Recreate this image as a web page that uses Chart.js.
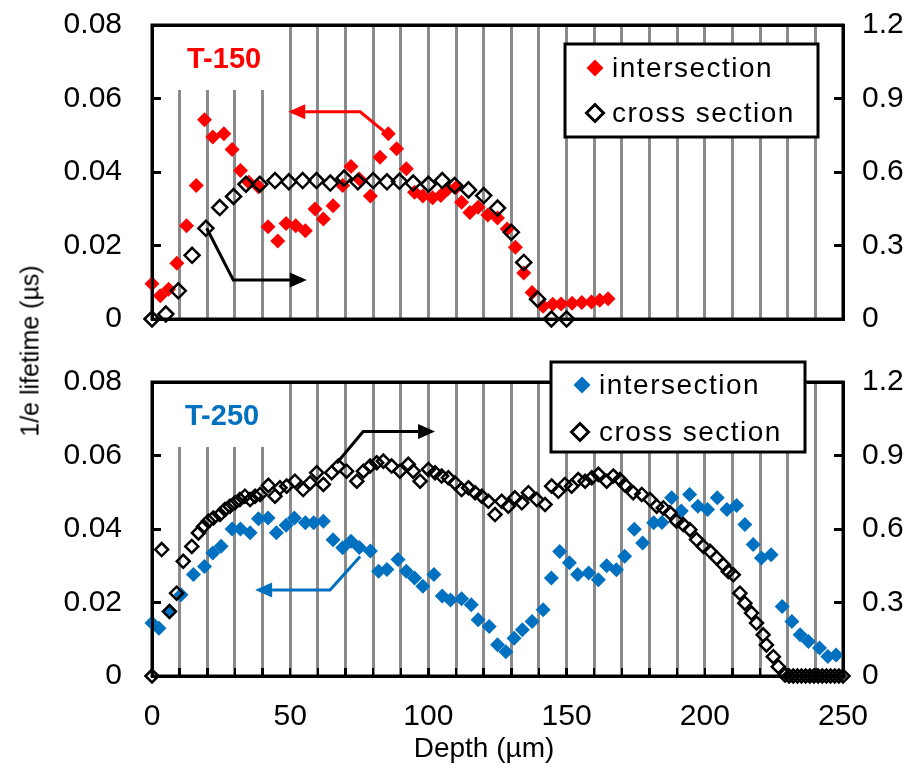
<!DOCTYPE html>
<html><head><meta charset="utf-8">
<script src="https://cdn.jsdelivr.net/npm/chart.js@4.4.1/dist/chart.umd.min.js"></script>
<style>
html,body{margin:0;padding:0;background:#fff;}
#wrap{position:relative;width:920px;height:773px;overflow:hidden;font-family:"Liberation Sans",Arial,sans-serif;color:#000;}
.cv{position:absolute;left:0;}
.fr{position:absolute;background:#000;}
#ytitle{position:absolute;left:30px;top:351px;transform:translate(-50%,-50%) rotate(-90deg);font-size:25px;white-space:nowrap;}
#xtitle{position:absolute;left:484px;top:748px;transform:translate(-50%,-50%);font-size:28px;white-space:nowrap;}
#err{position:absolute;left:0;top:0;font-size:12px;color:#c00;}
</style></head>
<body><div id="wrap">
<canvas id="c1" class="cv" width="920" height="345" style="top:0"></canvas>
<canvas id="c2" class="cv" width="920" height="428" style="top:345px"></canvas>
<div id="ytitle">1/e lifetime (µs)</div>
<div id="xtitle">Depth (µm)</div>
<div id="err"></div>
</div>
<script>
// ---------------- data ----------------
const depthGrid = [0,10,20,30,40,50,60,70,80,90,100,110,120,130,140,150,160,170,180,190,200,210,220,230,240,250];
const depthLabels = [0,50,100,150,200,250];
const leftTicks = [0,0.02,0.04,0.06,0.08];
const rightTicks = [0,0.3,0.6,0.9,1.2];

// T-150 intersection (left axis, µs)
const topIntDepth = [0,3,6,9,12.5,16,19,22,26,29,32,35,38.5,42,45.5,48.5,52,55.5,59,62,65.5,69,72,75,79,82.5,85.5,88.5,92,95,98,101.5,104.5,107,110,112,115,118,121.5,125,128.5,131.5,134.5,137.5,141.5,145,148,152,155.5,159,162,165];
const topIntValue = [0.0096,0.0063,0.0081,0.0152,0.0254,0.0363,0.0542,0.0495,0.0504,0.0461,0.0404,0.0372,0.036,0.0251,0.0212,0.026,0.0254,0.024,0.0299,0.0272,0.0308,0.0363,0.0415,0.0381,0.0335,0.044,0.0504,0.0463,0.0409,0.0345,0.0335,0.033,0.0336,0.0354,0.0358,0.0318,0.029,0.0304,0.0283,0.0275,0.0245,0.0195,0.0125,0.0072,0.0035,0.004,0.0041,0.0043,0.0045,0.0046,0.0051,0.0055];
// T-150 cross section (right axis)
const topCrossDepth = [0,5,9.5,14.5,19.5,24.5,29.5,34,39,44.5,49.5,54.5,59.5,64.5,69.5,74.5,80,85,89.5,94.5,100,105,109.5,114.5,120,125,130,134.5,139.5,144.5,150];
const topCrossValue = [0,0.02,0.115,0.26,0.37,0.455,0.5,0.55,0.55,0.565,0.56,0.565,0.565,0.555,0.575,0.56,0.565,0.56,0.562,0.555,0.55,0.565,0.545,0.527,0.504,0.453,0.354,0.231,0.081,0,0];

// T-250 intersection (left axis)
const botIntDepth = [0,2.5,6.5,10.5,15,19,22,25,29,32,35.5,38.5,42,45,48.5,51.5,55.5,58.5,62,65.5,69,72,75,79,82,85,89,92,95,98,102,105,108,112,115.5,118,122,125,128,131,134,137.5,141.5,144.5,147.5,151,154,158,161.5,164.5,168,171,174.5,177.5,181.5,184.5,188,191.5,194.5,197.5,201,204.5,208,211.5,214.5,217.5,220.5,224,228,231.5,234.5,237.5,241.5,244.5,247.5];
const botIntValue = [0.0144,0.013,0.0176,0.0221,0.0276,0.0298,0.0335,0.0353,0.040,0.040,0.039,0.0428,0.043,0.039,0.041,0.043,0.0417,0.0417,0.0421,0.0371,0.0349,0.0367,0.035,0.034,0.0285,0.029,0.0317,0.0285,0.0267,0.0244,0.0276,0.0218,0.0207,0.021,0.0194,0.0153,0.0135,0.0085,0.0066,0.0103,0.0126,0.0148,0.018,0.0267,0.0339,0.0308,0.0276,0.028,0.0262,0.030,0.0289,0.0326,0.0399,0.0362,0.0417,0.0418,0.0485,0.0449,0.0494,0.0462,0.0453,0.0485,0.0453,0.0464,0.0412,0.0358,0.0321,0.033,0.0189,0.0148,0.0112,0.0094,0.0076,0.0053,0.0057];
// T-250 cross section (right axis)
const botCrossDepth = [0,3.5,6.3,8.9,11.3,14.4,16.8,18.6,20.4,22.2,24.6,26.4,28.2,30,31.8,33.6,35.5,37.3,39.1,42.1,44.5,46.3,48.7,51.7,54.7,57.2,59.6,62,65,67.4,70.4,74.1,76.5,78.9,81.3,83.7,86.7,89.7,92.7,94.5,97,100,102.4,104.8,107.2,109.6,112,114.5,116.9,119.3,121.7,124.1,126.5,128.9,131.3,133.8,136.2,139.2,142.2,144.6,147,149.4,151.8,154.2,156.7,159.1,161.5,164.5,166.9,169.3,171.1,174.1,177.2,180.2,182.6,185,187.4,189.8,192.2,194.6,197,199.5,201.9,204.3,206.7,208.5,210.3,212.7,214.5,216.9,218.7,221.1,222.3,224.8,226.6,229,230.5,232,233.5,235,236.5,238,239.5,241,242.5,244,245.5,247,248.5,250,251.5];
const botCrossValue = [0,0.516,0.263,0.338,0.468,0.529,0.584,0.61,0.632,0.645,0.659,0.68,0.693,0.707,0.72,0.734,0.72,0.734,0.741,0.778,0.734,0.768,0.775,0.795,0.761,0.788,0.83,0.782,0.83,0.857,0.836,0.795,0.836,0.857,0.87,0.877,0.857,0.836,0.864,0.836,0.795,0.843,0.83,0.816,0.809,0.788,0.761,0.768,0.748,0.734,0.713,0.659,0.713,0.693,0.727,0.707,0.748,0.72,0.7,0.775,0.754,0.782,0.775,0.802,0.795,0.809,0.823,0.795,0.816,0.802,0.78,0.748,0.741,0.72,0.693,0.686,0.666,0.632,0.618,0.597,0.557,0.529,0.509,0.482,0.454,0.427,0.413,0.338,0.297,0.257,0.216,0.168,0.127,0.079,0.038,0.004,0,0,0,0,0,0,0,0,0,0,0,0,0,0,0];

// annotation arrows, in data units (depth, left-axis value); head at last point
const topArrows = [
  {color:'#ff0000', pts:[[85.5,0.0501],[75.3,0.0564],[49.3,0.0564]]},
  {color:'#000000', pts:[[19.8,0.0247],[29.4,0.0106],[56,0.0106]]}
];
const botArrows = [
  {color:'#000000', pts:[[66.8,0.0579],[76.4,0.0665],[102.4,0.0665]]},
  {color:'#0070c0', pts:[[75.3,0.0325],[64.4,0.0234],[37.3,0.0234]]}
];

// ---------------- helpers ----------------
const FONT = '"Liberation Sans", Arial, sans-serif';
const pts = (xs, ys) => xs.map((x, i) => ({x: x, y: ys[i]}));
function report(e) { document.getElementById('err').textContent += ' ' + (e && e.message ? e.message : e); }

function diamond(ctx, x, y, r) {
  ctx.beginPath();
  ctx.moveTo(x - r, y); ctx.lineTo(x, y - r); ctx.lineTo(x + r, y); ctx.lineTo(x, y + r);
  ctx.closePath();
}

function frameGeom(chart) {
  const xs = chart.scales.x, ys = chart.scales.y;
  return {L: xs.getPixelForValue(0), R: xs.getPixelForValue(250), B: ys.getPixelForValue(0), T: ys.getPixelForValue(0.08)};
}

// plot frame and inward tick marks (HTML overlay), placed from the chart's own scales
function addFrame(chart, o, offsetTop) {
  const wrap = document.getElementById('wrap');
  const xs = chart.scales.x, ys = chart.scales.y, ys2 = chart.scales.y2;
  const g = frameGeom(chart);
  const rects = [];
  const lg = o.legend;
  if (lg.y < g.T && lg.y + lg.h > g.T) {
    // the legend box sits on top of the frame's upper edge: leave that span out
    rects.push([g.L - 1.5, g.T - 1.5, (lg.x - 1.5) - (g.L - 1.5), 3]);
    rects.push([lg.x + lg.w + 1.5, g.T - 1.5, (g.R + 1.5) - (lg.x + lg.w + 1.5), 3]);
  } else {
    rects.push([g.L - 1.5, g.T - 1.5, g.R - g.L + 3, 3]);
  }
  rects.push([g.L - 1.5, g.B - 1.5, g.R - g.L + 3, 3]);
  rects.push([g.L - 1.5, g.T - 1.5, 3, g.B - g.T + 3]);
  rects.push([g.R - 1.5, g.T - 1.5, 3, g.B - g.T + 3]);
  leftTicks.forEach(v => { const p = ys.getPixelForValue(v); rects.push([g.L, p - 1.5, 9, 3]); });
  rightTicks.forEach(v => { const p = ys2.getPixelForValue(v); rects.push([g.R - 9, p - 1.5, 9, 3]); });
  if (o.xTicks) depthGrid.forEach(v => { const p = xs.getPixelForValue(v); rects.push([p - 1.25, g.B - 8, 2.5, 8]); });
  rects.forEach(r => {
    const d = document.createElement('div');
    d.className = 'fr';
    d.style.left = r[0] + 'px'; d.style.top = (r[1] + offsetTop) + 'px';
    d.style.width = r[2] + 'px'; d.style.height = r[3] + 'px';
    wrap.appendChild(d);
  });
}

function decoPlugin(o) {
  return {
    id: 'deco',
    beforeDatasetsDraw(chart) {
      try {
        const ctx = chart.ctx, g = frameGeom(chart);
        ctx.save();
        ctx.fillStyle = '#ffffff';
        ctx.fillRect(g.L, g.T, o.labelBoxW, o.labelBoxH);
        ctx.font = 'bold 29px ' + FONT;
        ctx.fillStyle = o.labelColor; ctx.textBaseline = 'middle'; ctx.textAlign = 'left';
        ctx.fillText(o.label, o.labelX, o.labelY);
        ctx.strokeStyle = '#000000'; ctx.lineWidth = 3;
        ctx.strokeRect(g.L, g.T, g.R - g.L, g.B - g.T);
        ctx.restore();
      } catch (e) { report(e); }
    },
    afterDatasetsDraw(chart) {
      try {
        const ctx = chart.ctx, xs = chart.scales.x, ys = chart.scales.y;
        ctx.save();
        o.arrows.forEach(ar => {
          const p = ar.pts.map(q => [xs.getPixelForValue(q[0]), ys.getPixelForValue(q[1])]);
          const n = p.length;
          const tx = p[n-1][0], ty = p[n-1][1];
          const ang = Math.atan2(ty - p[n-2][1], tx - p[n-2][0]);
          const AL = 17, AW = 7.5;
          const bx = tx - AL * Math.cos(ang), by = ty - AL * Math.sin(ang);
          ctx.strokeStyle = ar.color; ctx.fillStyle = ar.color; ctx.lineWidth = 3; ctx.lineJoin = 'miter';
          ctx.beginPath(); ctx.moveTo(p[0][0], p[0][1]);
          for (let i = 1; i < n - 1; i++) ctx.lineTo(p[i][0], p[i][1]);
          ctx.lineTo(bx, by); ctx.stroke();
          ctx.beginPath(); ctx.moveTo(tx, ty);
          ctx.lineTo(bx - AW * Math.sin(ang), by + AW * Math.cos(ang));
          ctx.lineTo(bx + AW * Math.sin(ang), by - AW * Math.cos(ang));
          ctx.closePath(); ctx.fill();
        });
        const lg = o.legend;
        ctx.fillStyle = '#ffffff'; ctx.fillRect(lg.x, lg.y, lg.w, lg.h);
        ctx.strokeStyle = '#000000'; ctx.lineWidth = 3; ctx.strokeRect(lg.x, lg.y, lg.w, lg.h);
        ctx.font = '28px ' + FONT; ctx.textBaseline = 'middle'; ctx.textAlign = 'left';
        try { ctx.letterSpacing = '1.5px'; } catch (e) {}
        lg.items.forEach(it => {
          diamond(ctx, it.mx, it.my, 8.5);
          if (it.filled) { ctx.fillStyle = it.color; ctx.fill(); }
          else { ctx.strokeStyle = it.color; ctx.lineWidth = 3; ctx.stroke(); }
          ctx.fillStyle = '#000000';
          ctx.fillText(it.text, it.tx, it.my + 1);
        });
        ctx.restore();
      } catch (e) { report(e); }
    }
  };
}

function makeChart(id, opt) {
  const tickFont = {family: FONT, size: 30};
  return new Chart(document.getElementById(id), {
    type: 'scatter',
    data: {datasets: opt.datasets},
    options: {
      responsive: false, animation: false, devicePixelRatio: 1, events: [],
      layout: {padding: {top: opt.padTop, left: 0, right: 0, bottom: 0}},
      plugins: {legend: {display: false}, tooltip: {enabled: false}},
      scales: {
        x: {
          type: 'linear', min: 0, max: 250, position: 'bottom',
          afterBuildTicks: s => { s.ticks = depthGrid.map(v => ({value: v})); },
          afterFit: s => { s.height = opt.xHeight; s.paddingLeft = 0; s.paddingRight = 0; },
          grid: {display: true, color: '#8a8a8a', lineWidth: 3, drawTicks: false},
          border: {display: false},
          ticks: {display: opt.showX, autoSkip: false, maxRotation: 0, padding: 23, font: tickFont, color: '#000',
                  callback: v => depthLabels.includes(v) ? String(v) : ''}
        },
        y: {
          type: 'linear', min: 0, max: 0.08, position: 'left',
          afterBuildTicks: s => { s.ticks = leftTicks.map(v => ({value: v})); },
          afterFit: s => { s.width = 152; s.paddingTop = 0; s.paddingBottom = 0; },
          grid: {display: false, drawTicks: false}, border: {display: false},
          ticks: {padding: 30, font: tickFont, color: '#000', callback: v => v === 0 ? '0' : v.toFixed(2)}
        },
        y2: {
          type: 'linear', min: 0, max: 1.2, position: 'right',
          afterBuildTicks: s => { s.ticks = rightTicks.map(v => ({value: v})); },
          afterFit: s => { s.width = 77; s.paddingTop = 0; s.paddingBottom = 0; },
          grid: {display: false, drawTicks: false}, border: {display: false},
          ticks: {padding: 19, font: tickFont, color: '#000', callback: v => v === 0 ? '0' : v.toFixed(1)}
        }
      }
    },
    plugins: [decoPlugin(opt.deco)]
  });
}

const crossStyle = (r) => ({pointStyle: 'rectRot', pointRadius: r, pointBorderWidth: 2.5, pointBorderColor: '#000',
  pointBackgroundColor: 'rgba(255,255,255,0)', showLine: false, clip: false, order: 0, yAxisID: 'y2'});
const intStyle = (c) => ({pointStyle: 'rectRot', pointRadius: 7.5, pointBorderWidth: 0, pointBackgroundColor: c,
  pointBorderColor: c, showLine: false, clip: false, order: 1, yAxisID: 'y'});

try {
const deco1 = {
  label: 'T-150', labelColor: '#ff0000', labelX: 187, labelY: 60, labelBoxW: 123, labelBoxH: 65,
  xTicks: false, arrows: topArrows,
  legend: {x: 565, y: 44, w: 253, h: 93, items: [
    {text: 'intersection', color: '#ff0000', filled: true, mx: 595, my: 68, tx: 612},
    {text: 'cross section', color: '#000', filled: false, mx: 595, my: 113, tx: 612}
  ]}
};
const chart1 = makeChart('c1', {
  padTop: 25, xHeight: 26, showX: false,
  datasets: [
    Object.assign({label: 'cross section', data: pts(topCrossDepth, topCrossValue)}, crossStyle(7.5)),
    Object.assign({label: 'intersection', data: pts(topIntDepth, topIntValue)}, intStyle('#ff0000'))
  ],
  deco: deco1
});
addFrame(chart1, deco1, 0);

const deco2 = {
  label: 'T-250', labelColor: '#0070c0', labelX: 185, labelY: 72, labelBoxW: 123, labelBoxH: 65,
  xTicks: true, arrows: botArrows,
  legend: {x: 551, y: 17, w: 254, h: 90, items: [
    {text: 'intersection', color: '#0070c0', filled: true, mx: 582, my: 40, tx: 599},
    {text: 'cross section', color: '#000', filled: false, mx: 580, my: 87, tx: 599}
  ]}
};
const chart2 = makeChart('c2', {
  padTop: 37, xHeight: 97, showX: true,
  datasets: [
    Object.assign({label: 'cross section', data: pts(botCrossDepth, botCrossValue)}, crossStyle(6.5)),
    Object.assign({label: 'intersection', data: pts(botIntDepth, botIntValue)}, intStyle('#0070c0'))
  ],
  deco: deco2
});
addFrame(chart2, deco2, 345);
} catch (e) { report(e); }
</script>
</body></html>
